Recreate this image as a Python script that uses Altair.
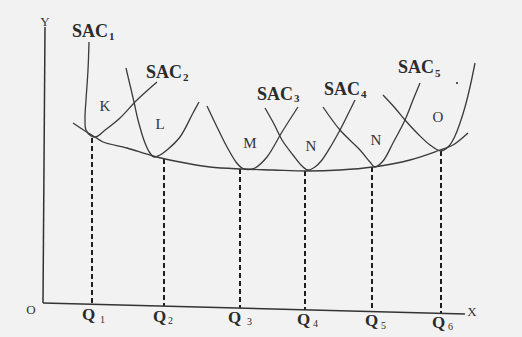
import altair as alt
import pandas as pd

# Short-run average cost curves (SAC1..SAC6) and the long-run envelope (LAC).
# Units: x = output, y = cost (arbitrary units of the diagram).
sac1_x = [46, 45, 43, 42, 43, 48, 53, 61, 77, 94, 114]
sac1_y = [261, 233, 203, 185, 173, 167, 166, 172, 185, 203, 221]

sac2_x = [83, 87, 91, 95, 102, 107, 111, 117, 124, 137, 150, 156]
sac2_y = [235, 218, 201, 183, 160, 150, 146, 148, 153, 166, 190, 201]

sac3_x = [164, 174, 184, 193, 199, 205, 212, 224, 239, 255]
sac3_y = [197, 176, 156, 141, 135, 133.5, 135, 146, 171, 196]

sac4_x = [222, 231, 239, 250, 259, 265, 272, 279, 288, 297, 312]
sac4_y = [195, 179, 163, 148, 137, 133, 136, 143, 157, 173, 203]

sac5_x = [280, 297, 317, 327, 332, 340, 350, 362, 370, 377]
sac5_y = [196, 173, 153, 141, 136, 142, 160, 183, 203, 220]

sac6_x = [340, 352, 362, 375, 387, 398, 406, 412, 417, 422, 427, 432]
sac6_y = [208, 195, 183, 169, 158, 152, 157, 167, 180, 196, 216, 240]

lac_x = [30, 42, 52, 60, 84, 110, 137, 167, 199, 230, 264, 297, 330, 367, 397, 410, 425]
lac_y = [180, 172, 166, 161, 155, 147, 141, 136, 134, 133, 132, 133, 136, 143, 153, 158, 170]

# Output levels Q1..Q6, where each plant is optimal
q_x = [49, 121, 197, 262, 329, 398]
q_top = [165, 144, 134, 132, 136, 152]
q_base = [-1, -3, -5, -7, -9, -10]

# Axis lines (origin, end of X axis, end of Y axis)
axis_x0 = [0, 0]
axis_y0 = [0, 0]
axis_x1 = [422, 2]
axis_y1 = [-11, 276]

# Curve labels: main text and subscript digit
sac_text = ["SAC", "SAC", "SAC", "SAC", "SAC"]
sac_tx = [29, 103, 214, 281, 355]
sac_ty = [266, 225, 203, 208, 230]
sac_sub = ["1", "2", "3", "4", "5"]
sac_sx = [66, 140, 251, 318, 392]
sac_sy = [263, 222, 201, 205, 226]

q_text = ["Q", "Q", "Q", "Q", "Q", "Q"]
q_tx = [39, 110, 185, 254, 322, 389]
q_ty = [-17, -19, -20, -22, -23, -25]
q_sub = ["1", "2", "3", "4", "5", "6"]
q_sx = [57, 125, 204, 270, 338, 405]
q_sy = [-20, -21, -22, -24, -26, -27]

# Point letters between curves and axis names
pt_text = ["K", "L", "M", "N", "N", "O", "X", "Y", "O"]
pt_x = [62, 117, 207, 268, 333, 395, 429, 2, -12]
pt_y = [197, 179, 160, 157, 163, 186, -9, 281, -7]
pt_size = [15, 15, 15, 15, 15, 15, 13, 13, 13]

dot_x = [414]
dot_y = [220]

curves = []
for name, xs, ys in [("SAC1", sac1_x, sac1_y), ("SAC2", sac2_x, sac2_y),
                     ("SAC3", sac3_x, sac3_y), ("SAC4", sac4_x, sac4_y),
                     ("SAC5", sac5_x, sac5_y), ("SAC6", sac6_x, sac6_y),
                     ("LAC", lac_x, lac_y)]:
    for i, (a, b) in enumerate(zip(xs, ys)):
        curves.append({"curve": name, "i": i, "x": a, "y": b})
curve_df = pd.DataFrame(curves)

q_df = pd.DataFrame({"x": q_x, "top": q_top, "base": q_base})
axis_df = pd.DataFrame({"x": axis_x0, "y": axis_y0, "x2": axis_x1, "y2": axis_y1})
sac_df = pd.DataFrame({"t": sac_text, "x": sac_tx, "y": sac_ty})
sacsub_df = pd.DataFrame({"t": sac_sub, "x": sac_sx, "y": sac_sy})
q_lab_df = pd.DataFrame({"t": q_text, "x": q_tx, "y": q_ty})
q_sub_df = pd.DataFrame({"t": q_sub, "x": q_sx, "y": q_sy})
pt_df = pd.DataFrame({"t": pt_text, "x": pt_x, "y": pt_y, "s": pt_size})
dot_df = pd.DataFrame({"x": dot_x, "y": dot_y})

xs = alt.Scale(domain=[-43, 479], nice=False, zero=False)
ys = alt.Scale(domain=[-34, 303], nice=False, zero=False)
X = lambda f="x": alt.X(f, type="quantitative", scale=xs, axis=None)
Y = lambda f="y": alt.Y(f, type="quantitative", scale=ys, axis=None)

ink = "#2b2b2b"
serif = "Liberation Serif"

lines = alt.Chart(curve_df).mark_line(
    interpolate="catmull-rom", color="#3a3a3a", strokeWidth=1.3
).encode(x=X(), y=Y(), detail="curve:N", order="i:Q")

drops = alt.Chart(q_df).mark_rule(
    color="#1e1e1e", strokeWidth=2, strokeDash=[5, 3]
).encode(x=X(), y=Y("top"), y2="base:Q")

axes = alt.Chart(axis_df).mark_rule(color="#333333", strokeWidth=1.5).encode(
    x=X(), y=Y(), x2="x2:Q", y2="y2:Q"
)

sac_lab = alt.Chart(sac_df).mark_text(
    font=serif, fontSize=18, fontWeight="bold", align="left",
    baseline="alphabetic", color=ink
).encode(x=X(), y=Y(), text="t:N")

sac_subl = alt.Chart(sacsub_df).mark_text(
    font=serif, fontSize=11, fontWeight="bold", align="left",
    baseline="alphabetic", color=ink
).encode(x=X(), y=Y(), text="t:N")

q_lab = alt.Chart(q_lab_df).mark_text(
    font=serif, fontSize=17, fontWeight="bold", align="left",
    baseline="alphabetic", color=ink
).encode(x=X(), y=Y(), text="t:N")

q_subl = alt.Chart(q_sub_df).mark_text(
    font=serif, fontSize=10, align="left", baseline="alphabetic", color=ink
).encode(x=X(), y=Y(), text="t:N")

pt_lab = alt.Chart(pt_df).mark_text(
    font=serif, align="center", baseline="middle", color="#333333"
).encode(x=X(), y=Y(), text="t:N",
         size=alt.Size("s:Q", scale=None, legend=None))

dot = alt.Chart(dot_df).mark_circle(size=5, color="#333333", opacity=1).encode(
    x=X(), y=Y()
)

chart = alt.layer(
    drops, axes, lines, sac_lab, sac_subl, q_lab, q_subl, pt_lab, dot
).properties(
    width=522, height=337,
    autosize=alt.AutoSizeParams(type="none"),
    padding=0,
    background="#f3f2f2",
).configure_view(stroke=None)

chart.save("out.html", embed_options={"renderer": "svg", "actions": False})
